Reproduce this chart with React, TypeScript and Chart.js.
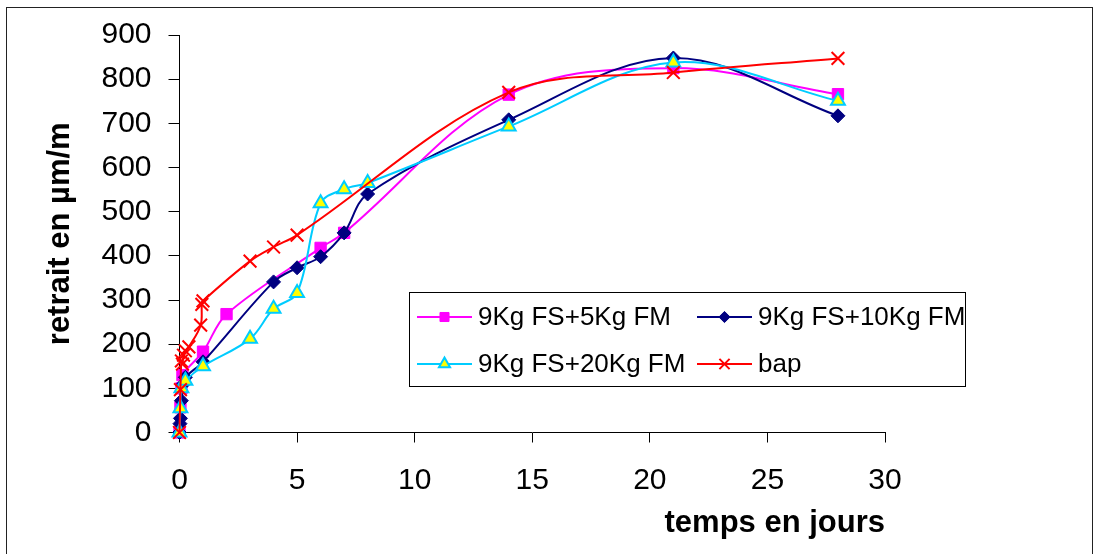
import React, { useEffect, useRef } from 'react';
import { Chart, registerables } from 'chart.js';
import { drawPoint } from 'chart.js/helpers';

Chart.register(...registerables);

const FONT = '"Liberation Sans", Arial, sans-serif';

// Series labels
const seriesLabels = ['9Kg FS+5Kg FM', '9Kg FS+10Kg FM', '9Kg FS+20Kg FM', 'bap'];

// 9Kg FS+5Kg FM
const fm5Days = [0, 0.04, 0.08, 0.125, 1, 2, 6, 7, 14, 21, 28];
const fm5Values = [0, 57, 100, 130, 183, 268, 418, 452, 765, 825, 766];

// 9Kg FS+10Kg FM
const fm10Days = [0, 0.02, 0.04, 0.08, 0.17, 0.25, 1, 4, 5, 6, 7, 8, 14, 21, 28];
const fm10Values = [0, 20, 32, 72, 110, 125, 160, 341, 373, 398, 452, 540, 708, 848, 717];

// 9Kg FS+20Kg FM
const fm20Days = [0, 0.04, 0.08, 0.25, 1, 3, 4, 5, 6, 7, 8, 14, 21, 28];
const fm20Values = [0, 55, 100, 117, 150, 212, 280, 316, 519, 551, 565, 693, 838, 751];

// bap
const bapDays = [0, 0.04, 0.08, 0.125, 0.17, 0.25, 0.4, 0.9, 0.95, 1, 3, 4, 5, 14, 21, 28];
const bapValues = [0, 97, 162, 155, 175, 185, 194, 243, 290, 298, 388, 420, 447, 770, 815, 847];

// Axes
const xMin = 0;
const xMax = 30;
const xStep = 5;
const yMin = 0;
const yMax = 900;
const yStep = 100;
const xTitle = 'temps en jours';
const yTitle = 'retrait en µm/m';

const toPoints = (xs: number[], ys: number[]) => xs.map((x, i) => ({ x, y: ys[i] }));

const legendPlugin = {
  id: 'boxLegend',
  afterDraw(chart: any, _args: any, opts: any) {
    const ctx = chart.ctx;
    ctx.save();
    ctx.strokeStyle = '#000';
    ctx.lineWidth = 1;
    ctx.strokeRect(opts.left + 0.5, opts.top + 0.5, opts.width, opts.height);
    chart.data.datasets.forEach((ds: any, i: number) => {
      const col = i % 2;
      const row = Math.floor(i / 2);
      const x0 = opts.colX[col];
      const y0 = opts.rowY[row];
      ctx.strokeStyle = ds.borderColor;
      ctx.lineWidth = 2;
      ctx.beginPath();
      ctx.moveTo(x0, y0);
      ctx.lineTo(x0 + opts.lineLen, y0);
      ctx.stroke();
      ctx.fillStyle = ds.pointBackgroundColor;
      ctx.strokeStyle = ds.pointBorderColor;
      ctx.lineWidth = ds.pointBorderWidth;
      drawPoint(ctx, {
        pointStyle: ds.pointStyle,
        radius: ds.pointRadius * 0.8,
        rotation: 0,
        borderWidth: ds.pointBorderWidth,
      } as any, x0 + opts.lineLen / 2, y0);
      ctx.fillStyle = '#000';
      ctx.font = `${opts.fontSize}px ${FONT}`;
      ctx.textBaseline = 'middle';
      ctx.textAlign = 'left';
      ctx.fillText(ds.label, x0 + opts.lineLen + opts.textGap, y0 + 1);
    });
    ctx.restore();
  },
};

export default function App() {
  const canvasRef = useRef<HTMLCanvasElement | null>(null);

  useEffect(() => {
    document.body.style.margin = '0';
    const canvas = canvasRef.current;
    if (!canvas) return;
    const chart = new Chart(canvas, {
      type: 'line',
      data: {
        datasets: [
          {
            label: seriesLabels[0],
            data: toPoints(fm5Days, fm5Values),
            borderColor: '#FF00FF',
            backgroundColor: '#FF00FF',
            pointBackgroundColor: '#FF00FF',
            pointBorderColor: '#FF00FF',
            pointStyle: 'rect',
            pointRadius: 8,
            pointBorderWidth: 1,
            borderWidth: 2,
            tension: 0.35,
            order: 4,
            clip: false as any,
          },
          {
            label: seriesLabels[1],
            data: toPoints(fm10Days, fm10Values),
            borderColor: '#000080',
            backgroundColor: '#000080',
            pointBackgroundColor: '#000080',
            pointBorderColor: '#000080',
            pointStyle: 'rectRot',
            pointRadius: 7,
            pointBorderWidth: 1,
            borderWidth: 2,
            tension: 0.35,
            order: 3,
            clip: false as any,
          },
          {
            label: seriesLabels[2],
            data: toPoints(fm20Days, fm20Values),
            borderColor: '#00CCFF',
            backgroundColor: '#FFFF00',
            pointBackgroundColor: '#FFFF00',
            pointBorderColor: '#00CCFF',
            pointStyle: 'triangle',
            pointRadius: 8,
            pointBorderWidth: 2,
            borderWidth: 2,
            tension: 0.35,
            order: 2,
            clip: false as any,
          },
          {
            label: seriesLabels[3],
            data: toPoints(bapDays, bapValues),
            borderColor: '#FF0000',
            backgroundColor: '#FF0000',
            pointBackgroundColor: '#FF0000',
            pointBorderColor: '#FF0000',
            pointStyle: 'crossRot',
            pointRadius: 9,
            pointBorderWidth: 2,
            borderWidth: 2,
            tension: 0.35,
            order: 1,
            clip: false as any,
          },
        ],
      },
      options: {
        responsive: false,
        animation: false,
        maintainAspectRatio: false,
        layout: { padding: { top: 35, right: 214, bottom: 0, left: 0 } },
        plugins: {
          legend: { display: false },
          tooltip: { enabled: false },
          boxLegend: {
            left: 409,
            top: 292,
            width: 556,
            height: 94,
            colX: [417, 697],
            rowY: [317, 364],
            lineLen: 55,
            textGap: 6,
            fontSize: 26,
          },
        } as any,
        scales: {
          x: {
            type: 'linear',
            min: xMin,
            max: xMax,
            afterFit: (scale: any) => {
              scale.height = 121.5;
            },
            ticks: {
              stepSize: xStep,
              color: '#000',
              font: { family: FONT, size: 30 },
              padding: 20,
              maxRotation: 0,
            },
            grid: {
              drawOnChartArea: false,
              drawTicks: true,
              tickLength: 10,
              color: '#000',
              tickColor: '#000',
            },
            border: { display: true, color: '#000', width: 1 },
            title: {
              display: true,
              text: xTitle,
              align: 'end',
              color: '#000',
              font: { family: FONT, size: 31, weight: 'bold' },
              padding: { top: 0, bottom: 12 },
            },
          },
          y: {
            type: 'linear',
            min: yMin,
            max: yMax,
            afterFit: (scale: any) => {
              scale.width = 179.5;
            },
            ticks: {
              stepSize: yStep,
              color: '#000',
              font: { family: FONT, size: 30 },
              padding: 17,
            },
            grid: {
              drawOnChartArea: false,
              drawTicks: true,
              tickLength: 11,
              color: '#000',
              tickColor: '#000',
            },
            border: { display: true, color: '#000', width: 1 },
            title: {
              display: true,
              text: yTitle,
              color: '#000',
              font: { family: FONT, size: 31, weight: 'bold' },
              padding: { top: 42, bottom: 0 },
            },
          },
        },
      },
      plugins: [legendPlugin],
    });
    return () => chart.destroy();
  }, []);

  return (
    <div style={{ position: 'fixed', left: 0, top: 0, width: 1099, height: 554, background: '#fff' }}>
      <div
        style={{
          position: 'absolute',
          left: 6,
          top: 7,
          width: 1087,
          height: 560,
          border: '1.5px solid #222',
          boxSizing: 'border-box',
        }}
      />
      <canvas ref={canvasRef} width={1099} height={554} style={{ position: 'absolute', left: 0, top: 0 }} />
    </div>
  );
}
